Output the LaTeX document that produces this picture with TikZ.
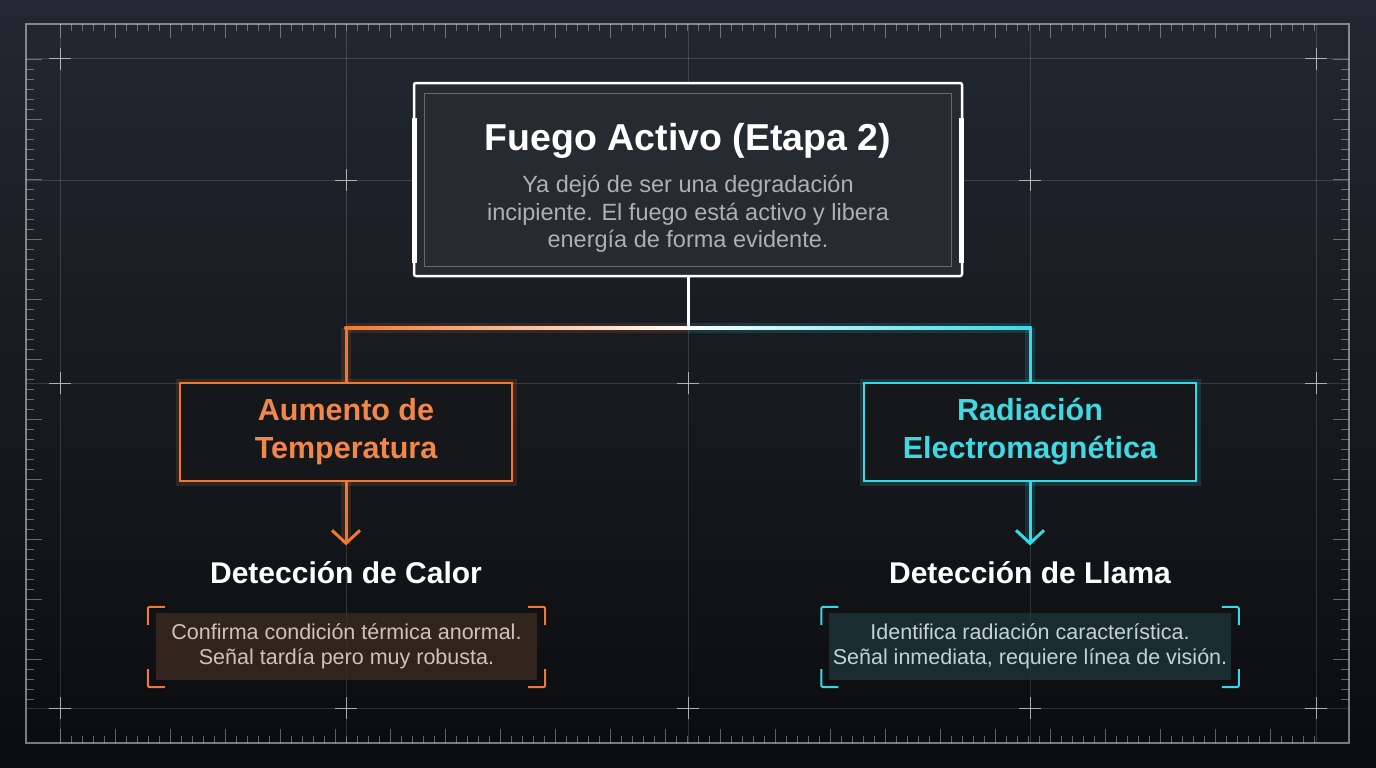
\documentclass[tikz,border=0pt]{standalone}
\usepackage{fontspec}
\setmainfont{Liberation Sans}
\usetikzlibrary{positioning, calc, arrows.meta}

\definecolor{bgtop}{RGB}{34,40,49}
\definecolor{bgbot}{RGB}{11,12,14}
\definecolor{boxgrey}{RGB}{38,43,50}
\definecolor{boxdark}{RGB}{21,23,26}
\definecolor{heat}{RGB}{240,120,50}
\definecolor{heattext}{RGB}{242,135,74}
\definecolor{flame}{RGB}{52,218,232}
\definecolor{flametext}{RGB}{64,216,228}
\definecolor{heatnote}{RGB}{64,45,32}
\definecolor{flamenote}{RGB}{30,56,60}
\definecolor{bodygrey}{RGB}{172,177,182}
\definecolor{heatgrey}{RGB}{204,196,188}
\definecolor{flamegrey}{RGB}{196,210,212}

\newcommand\titlefont{\fontsize{37.5}{40}\selectfont\bfseries}
\newcommand\bodyfont{\fontsize{23.5}{27.5}\selectfont}
\newcommand\causefont{\fontsize{30.5}{37}\selectfont\bfseries}
\newcommand\detectfont{\fontsize{30}{34}\selectfont\bfseries}
\newcommand\notefont{\fontsize{21.5}{25}\selectfont}

\begin{document}
\begin{tikzpicture}[
    x = 1pt, y = -1pt,
    grid/.style    = {white, opacity = .14, line width = 1pt},
    frame/.style   = {white, opacity = .45, line width = 1.2pt},
    tick/.style    = {white, opacity = .35, line width = .8pt},
    cross/.style   = {white, opacity = .6, line width = 1pt},
    main/.style    = {draw = white, line width = 2.5pt, fill = boxgrey, rounded corners = 2pt,
                      minimum width = 548pt, minimum height = 193pt},
    cause/.style   = {draw = #1, line width = 2.5pt, fill = boxdark, text = #1text,
                      preaction = {draw = #1, line width = 9pt, draw opacity = .15},
                      minimum width = 332pt, minimum height = 98pt, font = \causefont, align = center},
    detect/.style  = {text = white, font = \detectfont},
    note/.style    = {fill = #1note, fill opacity = .72, text opacity = 1, text = #1grey,
                      minimum height = 67pt, font = \notefont, align = center},
    link/.style    = {line width = 3pt},
    glow/.style    = {line width = 10pt, opacity = .15},
    bracket/.style = {line width = 2pt, rounded corners = 1.5pt,
                      preaction = {draw, line width = 6pt, opacity = .15}}
]

% Background
\shade[top color = bgtop, bottom color = bgbot] (0,0) rectangle (1376,768);
\useasboundingbox (0,0) rectangle (1376,768);

% Grid and rulers
\foreach \gx in {60,346,688,1030,1316}
    \draw[grid] (\gx,24) -- (\gx,743);
\foreach \gy in {59,180,383,708}
    \draw[grid] (26,\gy) -- (1349,\gy);
\draw[frame] (26,24) rectangle (1349,743);
\foreach \i in {0,...,114} {
    \pgfmathsetmacro\len{ifthenelse(mod(\i,5)==0,14,7)}
    \draw[tick] (60+11*\i,24) -- ++(0,\len);
    \draw[tick] (60+11*\i,743) -- ++(0,-\len);
}
\foreach \i in {0,...,64} {
    \pgfmathsetmacro\len{ifthenelse(mod(\i,6)==0,16,8)}
    \draw[tick] (26,59+10*\i) -- ++(\len,0);
    \draw[tick] (1349,59+10*\i) -- ++(-\len,0);
}
\foreach \cx/\cy in {60/59, 1316/59, 346/180, 1030/180, 60/383, 688/383, 1316/383,
                     60/708, 346/708, 688/708, 1030/708, 1316/708}
    \draw[cross] (\cx-11,\cy) -- (\cx+11,\cy) (\cx,\cy-11) -- (\cx,\cy+11);

% Stage box
\node[main] (top) at (688,179.5) {};
\draw[white, opacity = .3, line width = .8pt]
    ($(top.north west)+(12,12)$) rectangle ($(top.south east)+(-12,-11)$);
\draw[white, line width = 5pt] ($(top.north west)+(2,36)$) -- ($(top.south west)+(2,-14)$);
\draw[white, line width = 5pt] ($(top.north east)+(-2,36)$) -- ($(top.south east)+(-2,-14)$);
\node[font = \titlefont, text = white]              (title) at (688,141) {Fuego Activo (Etapa 2)};
\node[font = \bodyfont, text = bodygrey, align = center] (desc) at (688,214)
    {Ya dejó de ser una degradación\\incipiente. El fuego está activo y libera\\energía de forma evidente.};

% Causes
\node[cause = heat]  (heat)  at (346,432)  {Aumento de\\[1pt]Temperatura};
\node[cause = flame] (flame) at (1030,432) {Radiación\\[1pt]Electromagnética};

% Detection
\node[detect] (heatdet)  at (346,573)  {Detección de Calor};
\node[detect] (flamedet) at (1030,573) {Detección de Llama};

\node[note = heat,  minimum width = 381pt] (heatnote)  at (346.5,646.5)
    {Confirma condición térmica anormal.\\Señal tardía pero muy robusta.};
\node[note = flame, minimum width = 394pt] (flamenote) at (1030,646.5)
    {Identifica radiación característica.\\Señal inmediata, requiere línea de visión.};

% Connectors
\coordinate (split)   at (688,328);
\coordinate (lcorner) at (346,328);
\coordinate (rcorner) at (1030,328);

\draw[link, white] (top) -- (split);
\draw[glow, heat]  (lcorner) -- (split);
\draw[glow, flame] (rcorner) -- (split);
\shade[left color = heat, middle color = heat!75!white, right color = white]
    ($(lcorner)+(-1.5,-1.5)$) rectangle ($(split)+(0,1.5)$);
\shade[left color = white, middle color = flame!75!white, right color = flame]
    ($(split)+(0,-1.5)$) rectangle ($(rcorner)+(1.5,1.5)$);
\draw[glow, heat]  (lcorner) -- (heat);
\draw[glow, flame] (rcorner) -- (flame);
\draw[link, heat]  (lcorner) -- (heat);
\draw[link, flame] (rcorner) -- (flame);

\draw[glow, heat, shorten > = 14pt]  (heat)  -- (heatdet);
\draw[glow, flame, shorten > = 14pt] (flame) -- (flamedet);
\draw[link, heat, shorten > = 13pt, -{Straight Barb[length = 13pt, width = 28pt]}]  (heat)  -- (heatdet);
\draw[link, flame, shorten > = 13pt, -{Straight Barb[length = 13pt, width = 28pt]}] (flame) -- (flamedet);

% Corner brackets
\foreach \n/\c in {heatnote/heat, flamenote/flame} {
    \draw[bracket, \c] ($(\n.north west)+(-8,12)$) |- ++(17,-18);
    \draw[bracket, \c] ($(\n.north east)+(-9,-6)$) -| ++(17,18);
    \draw[bracket, \c] ($(\n.south west)+(-8,-11)$) |- ++(17,18);
    \draw[bracket, \c] ($(\n.south east)+(-9,7)$) -| ++(17,-18);
}

\end{tikzpicture}
\end{document}
